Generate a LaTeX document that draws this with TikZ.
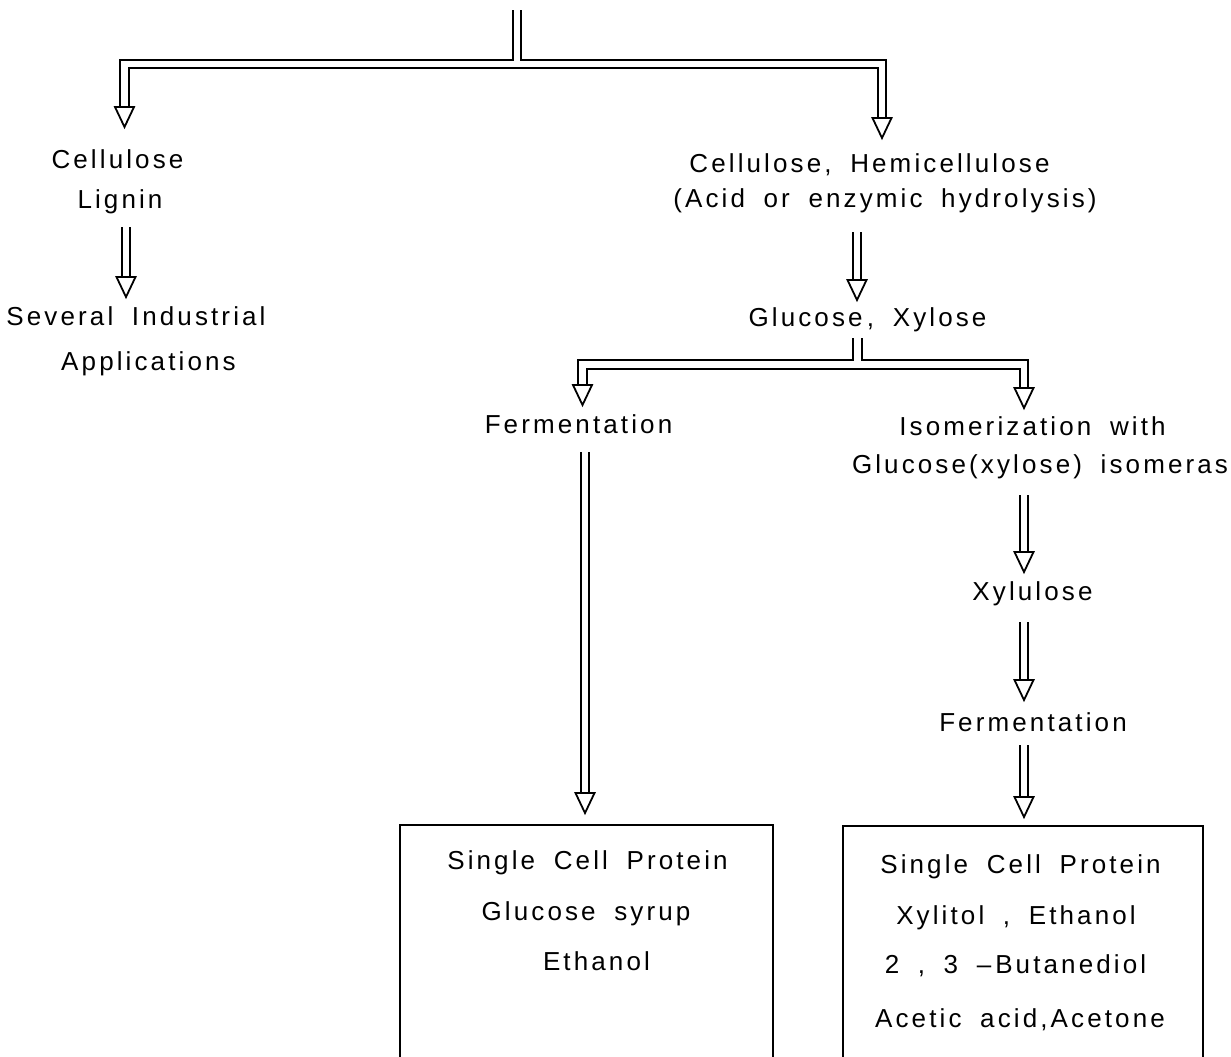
\documentclass[tikz,border=0pt]{standalone}
\usepackage{fontspec}
\setmainfont{Liberation Sans}[LetterSpace=12, WordSpace=1.8]
\usetikzlibrary{calc}
\tikzset{
  every picture/.style={x=0.5pt, y=-0.5pt, line width=0.9pt,
    font=\fontsize{13}{15}\selectfont},
  txt/.style={anchor=base, inner sep=0pt, outer sep=0pt, text height=9pt, text depth=2.5pt},
  shaft/.style={double, double distance=3.35pt, line join=miter},
  tipshape/.style={fill=white, draw, line join=miter},
  box/.style={draw, anchor=north west, inner sep=0pt, outer sep=0pt, minimum height=130pt},
}
\def\hw{9.5}
\def\hl{20}
\newcommand{\head}[1]{\filldraw[tipshape] ($(#1)+(-\hw,-\hl)$) -- (#1) -- ($(#1)+(\hw,-\hl)$) -- cycle;}
% hollow arrow from node #1 down to node #2, tip offset #3 from its north, gap #4 below #1
\newcommand{\link}[4]{%
  \coordinate (t) at ($(#2.north)+(#3)$);
  \draw[shaft] ($(t |- #1.south)+(0,#4)$) -- ($(t)+(0,1-\hl)$);
  \head{t}}

\begin{document}
\begin{tikzpicture}
  \useasboundingbox (0,0) rectangle (1231,1056);
  \clip (0,0) rectangle (1231,1056);
  % left branch
  \node[txt] (cel) at (117.5,168) {Cellulose};
  \node[txt] (lig) at (120,208) {Lignin};
  \node[txt] (sev) at (136,325) {Several Industrial};
  \node[txt] (app) at (148.5,370) {Applications};
  % right branch
  \node[txt] (hem) at (869.5,172) {Cellulose, Hemicellulose};
  \node[txt] (hyd) at (885,207) {(Acid or enzymic hydrolysis)};
  \node[txt] (glu) at (867.5,326) {Glucose\,, Xylose};
  \node[txt] (ferA) at (578.5,433) {Fermentation};
  \node[txt] (iso) at (1032.5,435) {Isomerization with};
  \node[txt, anchor=base west] (ase) at (852,473) {Glucose(xylose) isomerase};
  \node[txt] (xyl) at (1032.5,600) {Xylulose};
  \node[txt] (ferB) at (1033,731) {Fermentation};
  % products
  \node[box, minimum width=186.5pt] (boxA) at (400,825) {};
  \node[box, minimum width=180pt] (boxB) at (843,826) {};
  \node[txt] (pA1) at (587.5,869) {Single Cell Protein};
  \node[txt] (pA2) at (586,920) {Glucose syrup};
  \node[txt] (pA3) at (596.5,970) {Ethanol};
  \node[txt] (pB1) at (1020.5,873) {Single Cell Protein};
  \node[txt] (pB2) at (1016,924) {Xylitol , Ethanol};
  \node[txt] (pB3) at (1015.5,973) {2 , 3 –\kern2pt Butanediol};
  \node[txt] (pB4) at (1020,1027) {Acetic acid,Acetone};

  % top split
  \coordinate (src) at (517,10);
  \coordinate (jT) at (517,64);
  \coordinate (tL) at ($(cel.north)+(7,-23)$);
  \coordinate (tR) at ($(hem.north)+(12.5,-16)$);
  \draw[shaft] (src) -- (jT) -| ($(tL)+(0,1-\hl)$) (src) -- (jT) -| ($(tR)+(0,1-\hl)$);
  \head{tL}
  \head{tR}
  % split below glucose, xylose
  \coordinate (gs) at ($(glu.south)+(-10,7)$);
  \coordinate (jG) at ($(gs)+(0,26.5)$);
  \coordinate (tF) at ($(ferA.north)+(4,-10)$);
  \coordinate (tI) at ($(iso.north)+(-8.5,-9)$);
  \draw[shaft] (gs) -- (jG) -| ($(tF)+(0,1-\hl)$) (gs) -- (jG) -| ($(tI)+(0,1-\hl)$);
  \head{tF}
  \head{tI}

  \link{lig}{sev}{-10,-10}{14}
  \link{hyd}{glu}{-10.5,-8}{20}
  \link{ase}{xyl}{-8.5,-10}{17}
  \link{xyl}{ferB}{-9,-13}{17}
  \link{ferB}{boxB}{1,-9}{9}
  \link{ferA}{boxA}{-1.5,-12}{14}
\end{tikzpicture}
\end{document}
